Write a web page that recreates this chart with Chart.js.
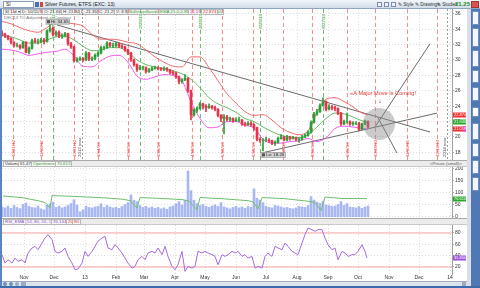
<!DOCTYPE html>
<html><head><meta charset="utf-8">
<script src="https://cdn.jsdelivr.net/npm/chart.js@4.4.1/dist/chart.umd.min.js"></script>
<style>
*{box-sizing:border-box;margin:0;padding:0}
body{width:480px;height:288px;overflow:hidden;background:#c3cfdf;font-family:'Liberation Sans',Arial,sans-serif;position:relative;color:#222}
.a{position:absolute;white-space:nowrap}
.box{position:absolute;white-space:nowrap;height:6px;line-height:4px;font-size:4.4px;border:1px solid #b8b8b8;background:#f7f7f7;padding:0 1px;color:#333}
.tab{position:absolute;left:472px;width:7px;background:#f3f6fb;border:1px solid #6f8fbf;border-radius:1px}
canvas{position:absolute}
</style></head><body>
<!-- top bar -->
<div class="a" style="left:0;top:0;width:480px;height:9px;background:linear-gradient(#f2f6fb,#d2ddeb);border-bottom:1px solid #8ea5c5"></div>
<div class="a" style="left:3px;top:1px;width:31px;height:7px;background:#fff;border:1px solid #8d9fb8;font-size:5px;line-height:5px;padding-left:2px">SI</div>
<div class="a" style="left:35px;top:2px;width:4px;height:5px;background:#4a6fb3"></div>
<div class="a" style="left:40px;top:2px;width:3px;height:5px;background:#d04a3a"></div>
<div class="a" style="left:45px;top:1px;font-size:5px;line-height:7px;color:#222">Silver Futures, ETFS (EXC: 13)</div>
<div class="a" style="left:377px;top:2px;width:5px;height:5px;border:1px solid #7d8ea8;background:#eef"></div>
<div class="a" style="left:384px;top:2px;width:5px;height:5px;border:1px solid #7d8ea8;background:#eef"></div>
<div class="a" style="left:391px;top:2px;width:5px;height:5px;border:1px solid #7d8ea8;background:#eef"></div>
<div class="a" style="left:398px;top:1px;font-size:4.6px;line-height:7px;color:#333">&#9998; Style</div>
<div class="a" style="left:415px;top:1px;font-size:4.6px;line-height:7px;color:#333">&#9998; Drawings</div>
<div class="a" style="left:437px;top:1px;font-size:4.6px;line-height:7px;color:#333">&#9998; Studies</div>
<div class="a" style="left:455px;top:0px;font-size:6px;line-height:9px;color:#1f8f1f;font-weight:bold">21.25</div>
<div class="a" style="left:471px;top:1px;width:8px;height:7px;background:#d9534f;border:1px solid #a33"></div>

<!-- frames -->
<div class="a" style="left:0;top:9px;width:2px;height:279px;background:#5a84c2"></div>
<div class="a" style="left:2px;top:9px;width:465px;height:272px;background:#fff"></div>
<div class="a" style="left:467px;top:9px;width:13px;height:279px;background:#d8dfe9"></div>
<div class="a" style="left:471px;top:9px;width:9px;height:279px;background:#4f78b4"></div>
<div class="tab" style="top:11px;height:14px"></div>
<div class="tab" style="top:28px;height:19px"></div>
<div class="tab" style="top:50px;height:17px"></div>
<div class="tab" style="top:70px;height:13px"></div>
<div class="tab" style="top:87px;height:14px"></div>
<div class="tab" style="top:107px;height:10px;background:#fff"></div>
<div class="tab" style="top:123px;height:17px"></div>
<div class="tab" style="top:143px;height:14px"></div>
<div class="tab" style="top:160px;height:14px"></div>
<div class="tab" style="top:177px;height:14px"></div>

<!-- legend rows -->
<div class="box" style="left:3px;top:9px">SI 1 d &#9662;</div>
<div class="box" style="left:20px;top:9px">D: 10/11/13</div>
<div class="box" style="left:42px;top:9px">O: 21.665</div>
<div class="box" style="left:61px;top:9px">H: 21.84</div>
<div class="box" style="left:79px;top:9px">L: 21.35</div>
<div class="box" style="left:97px;top:9px">C: 21.25</div>
<div class="box" style="left:114px;top:9px">V: 8.95</div>
<div class="box" style="left:127px;top:9px;color:#3c9a3c">BollingerBands(EMA 21.0,0.88, 2.0, 2.0) 21.850</div>
<div class="box" style="left:188px;top:9px;color:#c040c0">21.019</div>
<div class="box" style="left:201px;top:9px;color:#e03030">22.874</div>
<div class="a" style="left:4px;top:15px;font-size:4.4px;line-height:5px;color:#777">DEC13 TO Adjustment of Contract</div>

<!-- strips -->
<div class="a" style="left:2px;top:160px;width:465px;height:7px;background:#ececec;border-top:1px solid #aaa;border-bottom:1px solid #c8c8c8"></div>
<div class="box" style="left:3px;top:161px">Volume</div>
<div class="box" style="left:18px;top:161px">61,477</div>
<div class="box" style="left:31px;top:161px;color:#3c9a3c">OpenInterest</div>
<div class="box" style="left:55px;top:161px;color:#3c9a3c">70,613</div>
<div class="a" style="left:430px;top:161px;font-size:4.4px;line-height:5px;color:#555">&lt;Prices (small)&gt;</div>
<div class="a" style="left:2px;top:218px;width:465px;height:7px;background:#ececec;border-top:1px solid #aaa;border-bottom:1px solid #c8c8c8"></div>
<div class="box" style="left:3px;top:219px;color:#8a4fcf">RSI_EMA (14, 80, 20, CLOSE)</div>
<div class="box" style="left:51px;top:219px;color:#8a4fcf">35.1442</div>
<div class="box" style="left:66px;top:219px;color:#e03030">20</div>
<div class="box" style="left:72px;top:219px;color:#e03030">80</div>

<!-- bottom bar -->
<div class="a" style="left:2px;top:281px;width:465px;height:5px;background:#dde3ec;border-top:1px solid #aab"></div>
<div class="a" style="left:3px;top:282px;width:4px;height:4px;border-radius:2px;background:#6f8fb8"></div>
<div class="a" style="left:9px;top:282px;width:4px;height:4px;border-radius:2px;background:#6f8fb8"></div>
<div class="a" style="left:15px;top:282px;width:4px;height:4px;border-radius:2px;background:#9aaac0"></div>
<div class="a" style="left:21px;top:282px;width:5px;height:4px;background:#9aaac0"></div>
<div class="a" style="left:462px;top:282px;width:4px;height:4px;background:#9aaac0"></div>
<div class="a" style="left:0;top:286px;width:480px;height:2px;background:#3d6cae"></div>

<canvas id="cPrice" width="465" height="151" style="left:2px;top:9px"></canvas>
<canvas id="cVol" width="465" height="51" style="left:2px;top:167px"></canvas>
<canvas id="cRsi" width="465" height="56" style="left:2px;top:225px"></canvas>

<script>
// ---------- data ----------
const monthDays = [31,61,92,123,151,182,212,243,273,304,335,365,396,426,457]; // days since 2012-10-01
const monthLabels = ['Nov','Dec','13','Feb','Mar','Apr','May','Jun','Jul','Aug','Sep','Oct','Nov','Dec','14'];
const priceTicks = [18,20,22,24,26,28,30,32,34,36];
const volumeTicks = [0,50,100,150,200];
const rsiTicks = [20,40,60,80];
const rsiLevels = [80,20];

const days = [9,12,15,18,21,24,27,30,33,36,39,42,45,48,51,54,57,60,63,66,69,72,75,78,81,84,87,90,93,96,99,102,105,108,111,114,117,120,123,126,129,132,135,138,141,144,147,150,153,156,159,162,165,168,171,174,177,180,183,186,189,192,195,198,201,204,207,210,213,216,219,222,225,228,231,234,237,240,243,246,249,252,255,258,261,264,267,270,273,276,279,282,285,288,291,294,297,300,303,306,309,312,315,318,321,324,327,330,333,336,339,342,345,348,351,354,357,360,363,366,369,372,375];
const opens = [33.5,33.3,33.1,32.8,32.3,31.9,31.9,31.6,32.3,31.0,
 31.5,32.5,32.4,32.4,32.6,32.4,33.8,34.1,33.3,33.6,
 33.1,33.2,33.4,32.1,31.7,29.9,30.1,30.2,30.0,30.9,
 30.1,30.2,30.6,30.9,31.6,31.6,32.2,31.9,31.9,32.1,
 31.8,31.7,31.3,30.9,30.0,29.4,28.8,29.0,29.0,28.5,
 28.7,28.9,29.0,28.9,28.8,28.9,28.7,28.4,28.3,27.8,
 27.2,27.4,27.6,26.0,22.9,23.5,23.7,24.3,24.0,23.8,
 24.0,23.8,23.6,22.8,22.4,22.6,22.3,22.4,22.1,22.2,
 22.2,21.7,21.6,21.8,21.6,21.2,19.7,19.6,19.6,19.6,
 19.5,19.2,19.3,19.8,20.0,19.6,20.0,19.8,19.9,19.7,
 19.7,20.0,20.2,20.6,21.9,23.0,23.3,24.1,24.6,23.6,
 23.9,23.8,23.7,23.1,21.7,22.0,22.0,21.7,21.8,21.8,
 21.0,21.7,22.0];
const highs = [33.8,33.5,33.2,32.9,32.4,32.2,32.0,32.4,32.4,31.7,
 32.7,32.8,32.7,32.8,32.8,33.9,34.65,34.3,33.8,33.8,
 33.4,33.6,33.5,32.3,31.8,30.3,30.4,30.3,31.1,31.0,
 30.4,30.8,31.1,31.8,31.8,32.4,32.3,32.2,32.3,32.2,
 32.0,31.8,31.4,31.0,30.1,29.5,29.3,29.2,29.1,28.9,
 29.1,29.2,29.1,29.0,29.1,29.0,28.8,28.6,28.4,27.9,
 27.6,28.1,27.7,26.1,23.7,23.9,24.5,24.4,24.2,24.3,
 24.1,24.0,23.7,22.9,22.9,22.8,22.6,22.5,22.5,22.6,
 22.3,21.9,22.0,22.0,21.7,21.3,19.9,19.8,20.0,19.8,
 19.6,19.5,20.0,20.3,20.1,20.2,20.1,20.1,20.0,19.9,
 20.2,20.4,20.8,22.1,23.2,23.6,24.3,25.1,24.7,24.2,
 24.1,24.0,23.8,23.2,22.2,23.1,22.1,22.0,22.0,21.9,
 21.8,22.2,22.1];
const lows = [33.1,32.9,32.6,32.1,31.7,31.7,31.4,31.5,30.9,30.8,
 31.4,32.2,32.1,32.2,32.1,32.3,33.6,33.1,33.1,32.9,
 32.8,33.0,31.9,31.5,29.7,29.7,29.9,29.8,29.9,29.9,
 29.9,30.0,30.4,30.8,31.3,31.5,31.7,31.6,31.7,31.6,
 31.5,31.1,30.7,29.8,29.2,28.5,28.7,28.7,28.3,28.4,
 28.6,28.8,28.7,28.6,28.6,28.5,28.2,28.1,27.6,26.9,
 27.0,27.3,25.8,22.2,22.7,23.2,23.6,23.6,23.3,23.7,
 23.6,23.4,22.6,22.0,20.4,22.1,22.1,21.9,22.0,22.0,
 21.5,21.4,21.5,21.4,20.9,19.5,19.3,18.2,19.4,19.3,
 19.0,18.9,19.2,19.7,19.5,19.5,19.6,19.7,19.5,19.3,
 19.6,19.9,20.1,20.5,21.8,22.8,23.2,24.0,23.4,23.5,
 23.5,23.4,22.9,21.5,21.6,21.8,21.5,21.5,21.6,20.8,
 20.9,21.6,21.2];
const closes = [33.3,33.1,32.8,32.3,31.9,31.9,31.6,32.3,31.0,31.5,
 32.5,32.4,32.4,32.6,32.4,33.8,34.1,33.3,33.6,33.1,
 33.2,33.4,32.1,31.7,29.9,30.1,30.2,30.0,30.9,30.1,
 30.2,30.6,30.9,31.6,31.6,32.2,31.9,31.9,32.1,31.8,
 31.7,31.3,30.9,30.0,29.4,28.8,29.0,29.0,28.5,28.7,
 28.9,29.0,28.9,28.8,28.9,28.7,28.4,28.3,27.8,27.2,
 27.4,27.6,26.0,22.9,23.5,23.7,24.3,24.0,23.8,24.0,
 23.8,23.6,22.8,22.4,22.6,22.3,22.4,22.1,22.2,22.2,
 21.7,21.6,21.8,21.6,21.2,19.7,19.6,19.6,19.6,19.5,
 19.2,19.3,19.8,20.0,19.6,20.0,19.8,19.9,19.7,19.7,
 20.0,20.2,20.6,21.9,23.0,23.3,24.1,24.6,23.6,23.9,
 23.8,23.7,23.1,21.7,22.0,22.0,21.7,21.8,21.8,21.0,
 21.7,22.0,21.3];
const volumes = [42,38,45,36,48,40,35,52,58,44,40,38,46,34,30,
 50,55,62,40,45,38,42,48,56,
 72,50,22,30,
 45,40,38,42,44,55,40,48,42,38,40,36,44,
 52,60,92,70,64,48,40,
 44,38,42,36,40,34,38,32,42,46,55,64,50,70,
 192,110,70,56,48,52,44,40,46,50,
 44,60,42,38,34,40,44,38,42,36,44,40,
 117,78,70,60,44,40,38,48,
 46,42,38,40,36,34,38,44,42,40,48,
 85,71,62,57,66,50,48,44,46,
 52,64,48,56,42,40,38,44,36,42,46];

const bandDays = [9,18,27,36,45,54,63,72,81,90,99,108,117,126,135,144,153,162,171,180,189,198,207,216,225,234,243,252,261,270,279,288,297,306,315,324,333,342,351,360,369,375];
const upperBand = [35.0,34.7,34.2,33.8,33.6,34.2,34.9,34.8,34.7,34.4,33.3,32.7,32.7,32.6,32.3,32.1,31.3,30.4,29.7,29.2,29.1,30.4,30.4,29.0,27.3,25.6,24.4,23.3,22.8,22.9,22.2,21.2,20.6,20.3,20.8,23.2,24.9,25.1,24.6,23.9,23.1,22.874];
const middleBand = [33.2,33.0,32.6,32.2,32.2,32.6,33.0,33.1,32.6,31.8,31.2,31.3,31.6,31.6,31.0,30.0,29.4,29.1,28.9,28.6,28.2,27.5,26.4,25.1,24.3,23.8,23.2,22.4,22.0,21.3,20.7,20.2,20.0,19.9,20.3,21.3,22.4,23.1,23.0,22.6,22.1,21.946];
const lowerBand = [31.4,31.3,31.0,30.6,30.8,31.0,31.1,31.4,30.5,29.2,29.1,29.9,30.5,30.6,29.7,27.9,27.5,27.8,28.1,28.0,27.3,24.6,22.4,21.2,21.3,22.0,22.0,21.5,21.2,19.7,19.2,19.2,19.4,19.5,19.8,19.4,19.9,21.1,21.4,21.3,21.1,21.019];

const oiDays = [10,30,45,52,55,57,59,80,110,130,137,141,144,147,170,190,196,200,204,207,230,255,260,263,265,269,290,315,322,325,328,332,350,374];
const oiValues = [88,80,68,60,48,37,89,86,80,74,68,52,37,81,77,72,66,48,30,81,76,68,63,46,34,81,77,66,60,44,27,83,77,76.61];

const rsiDays = [9,12,15,19,22,25,29,32,35,39,42,45,49,52,55,59,62,65,69,72,75,79,82,85,89,92,95,99,102,105,109,112,115,119,122,125,129,132,135,139,142,145,149,152,155,159,162,165,169,172,175,179,182,185,189,192,195,199,202,205,209,212,215,219,222,225,229,232,235,239,242,245,249,252,255,259,262,265,269,272,275,279,282,285,289,292,295,299,302,305,309,312,315,319,322,325,329,332,335,339,342,345,349,352,355,359,362,365,369,372,374];
const rsiValues = [41.7,26.9,32.8,26.9,35.8,29.9,32.8,26.9,44.6,53.5,
 56.4,50.5,62.3,71.2,77.1,68.2,47.6,44.6,47.6,53.5,
 38.7,26.9,15.1,16.3,26.9,47.6,38.7,47.6,56.4,65.3,
 71.2,74.1,53.5,50.5,59.4,53.5,44.6,35.8,26.9,18.1,
 21.0,32.8,38.7,32.8,44.6,47.6,44.6,53.5,41.7,56.4,
 38.7,21.0,15.1,24.0,47.6,12.2,21.0,18.1,21.0,47.6,
 44.6,47.6,44.6,41.7,38.7,24.0,41.7,38.7,41.7,47.6,
 44.6,47.6,38.7,41.7,35.8,38.7,18.1,21.0,18.1,38.7,
 44.6,38.7,56.4,53.5,50.5,62.3,56.4,47.6,44.6,41.7,
 62.3,77.1,88.9,85.9,83.0,85.9,85.9,71.2,59.4,50.5,
 53.5,32.8,47.6,44.6,38.7,41.7,41.7,47.6,59.4,47.6,35.8];

// annotations (data coordinates: day, price)
const cycleDays = [20,48,81,105,135,165,199,229,260,290,319,354,382,414,444];
const cycleLabels = ['10/21/12','11/18/12','12/21/12','1/14/13','2/13/13','3/15/13','4/18/13','5/18/13','6/18/13','7/18/13','8/16/13','9/20/13','10/18/13','11/19/13','12/19/13'];
const turnDays = [60,147,207,267,330];
const turnLabels = ['11/30/12','2/25/13','4/26/13','6/25/13','8/27/13'];
const yearDays = [89,454];
const yearLabels = ['2013 year','2014 year'];
const resistDays = [64,437], resistPrices = [34.55,20.65];
const supportDays = [270,444], supportPrices = [17.96,23.1];
const breakUpDays = [382,437], breakUpPrices = [21.3,32.1];
const breakDownDays = [385,404], breakDownPrices = [22.5,17.9];
const focusDays = [386], focusPrices = [21.7];
const hiDay = 57, hiPrice = 34.65, loDay = 270, loPrice = 18.2;
const noteDay = 390, notePrice = 25.6, noteText = '\u00abA Major Move Is Coming!';
const arrowDay = 387, arrowPrice = 24.6;

[opens,highs,lows,closes,volumes].forEach(a=>{ if(a.length!==days.length) throw new Error('len '+a.length); });
if (rsiValues.length!==rsiDays.length) throw new Error('rsi len '+rsiValues.length+' '+rsiDays.length);
[upperBand,middleBand,lowerBand].forEach(a=>{ if(a.length!==bandDays.length) throw new Error('band len'); });
if (oiValues.length!==oiDays.length) throw new Error('oi len');

// ---------- setup ----------
const FONT = "'Liberation Sans', Arial, sans-serif";
Chart.defaults.font.family = FONT;
const xMin = 9, xMax = 459;
const UP = '#2f9e3a', DOWN = '#e8324a';
const GRID = '#cfcfcf';
const pts = (xs, ys) => xs.map((d,i)=>({x:d, y:ys[i]}));

function xScale(showLabels){
  return {type:'linear', min:xMin, max:xMax, offset:false,
    afterBuildTicks: s => { s.ticks = monthDays.map(v=>({value:v})); },
    afterFit: s => { s.height = showLabels ? 7 : 0; s.paddingLeft = 0; s.paddingRight = 0; },
    grid:{color:GRID, lineWidth:0.7, drawTicks:false, offset:false},
    border:{display:false, dash:[1,2]},
    ticks:{display:showLabels, autoSkip:false, maxRotation:0, padding:1, color:'#333', font:{size:5}, callback:(v,i)=>monthLabels[i]}
  };
}
function yScale(min, max, tickArr){
  return {position:'right', min, max,
    afterBuildTicks: s => { s.ticks = tickArr.map(v=>({value:v})); },
    afterFit: s => { s.width = 15; s.paddingTop = 0; s.paddingBottom = 0; },
    grid:{color:GRID, lineWidth:0.7, drawTicks:true, tickLength:2, tickColor:'#888'},
    border:{display:true, color:'#a0a0a0', width:1, dash:[1,2]},
    ticks:{padding:1, color:'#333', font:{size:5}}
  };
}
const base = {responsive:false, animation:false, devicePixelRatio:1, layout:{padding:0, autoPadding:false},
  plugins:{legend:{display:false}, tooltip:{enabled:false}}};

function badge(chart, value, text, bg, fg, bg2){
  const {ctx, chartArea:a, scales:{y}} = chart;
  const py = Math.round(y.getPixelForValue(value));
  ctx.save();
  ctx.fillStyle = bg; ctx.fillRect(a.right+1, py-2.5, 13, 5);
  if (bg2){ ctx.fillStyle = bg2; ctx.fillRect(a.right+11, py-2.5, 3, 5); }
  ctx.fillStyle = fg; ctx.font = `4px ${FONT}`; ctx.textAlign='left'; ctx.textBaseline='middle';
  ctx.fillText(text, a.right+2, py+0.3);
  ctx.restore();
}

const priceAnno = {
  id:'priceAnno',
  beforeDatasetsDraw(chart){
    const {ctx, chartArea:a, scales:{x}} = chart;
    ctx.save();
    ctx.beginPath(); ctx.rect(a.left,a.top,a.right-a.left,a.bottom-a.top); ctx.clip();
    ctx.lineWidth = 1;
    const vline = (d,color,dash)=>{ const px=Math.round(x.getPixelForValue(d))+0.5; ctx.strokeStyle=color; ctx.setLineDash(dash); ctx.beginPath(); ctx.moveTo(px,a.top); ctx.lineTo(px,a.bottom); ctx.stroke(); };
    cycleDays.forEach(d=>vline(d,'rgba(246,110,110,0.8)',[4,3]));
    turnDays.forEach(d=>vline(d,'rgba(80,170,80,0.8)',[4,3]));
    yearDays.forEach(d=>vline(d,'rgba(90,90,90,0.6)',[2,2]));
    ctx.setLineDash([]);
    ctx.font = `4.4px ${FONT}`; ctx.textBaseline='middle';
    const vtext = (txt,px,py,align,color)=>{ ctx.save(); ctx.translate(px,py); ctx.rotate(-Math.PI/2); ctx.textAlign=align; ctx.fillStyle=color; ctx.fillText(txt,0,0); ctx.restore(); };
    cycleDays.forEach((d,i)=>vtext(cycleLabels[i], x.getPixelForValue(d)+1, a.bottom-3, 'left', '#f04848'));
    turnDays.forEach((d,i)=>{ const px=Math.round(x.getPixelForValue(d))+0.5;
      ctx.fillStyle='rgba(240,250,240,0.95)'; ctx.fillRect(px-2, a.top+5, 4, 15);
      vtext(turnLabels[i], px+0.2, a.top+5, 'right', '#3a9a3a'); });
    yearDays.forEach((d,i)=>vtext(yearLabels[i], x.getPixelForValue(d)-2, a.bottom-3, 'left', '#555'));
    ctx.restore();
  },
  afterDatasetsDraw(chart){
    const {ctx, scales:{x,y}} = chart;
    ctx.save();
    const tag = (txt, px, py)=>{
      ctx.font = `4.4px ${FONT}`;
      const w = ctx.measureText(txt).width + 6;
      ctx.fillStyle='#d2d2d2'; ctx.fillRect(px, py, w, 5);
      ctx.strokeStyle='#8a8a8a'; ctx.lineWidth=0.6; ctx.strokeRect(px, py, w, 5);
      ctx.fillStyle='#555'; ctx.fillRect(px+1, py+1, 3, 3);
      ctx.fillStyle='#222'; ctx.textAlign='left'; ctx.textBaseline='middle'; ctx.fillText(txt, px+5, py+2.7);
    };
    tag('Hi: '+hiPrice.toFixed(2), x.getPixelForValue(hiDay)-4, y.getPixelForValue(hiPrice)-5);
    tag('Lo: '+loPrice.toFixed(2), x.getPixelForValue(loDay)-2, y.getPixelForValue(loPrice)+1.5);
    ctx.fillStyle='#ea3434'; ctx.font=`5.6px ${FONT}`; ctx.textAlign='center'; ctx.textBaseline='middle';
    ctx.fillText(noteText, x.getPixelForValue(noteDay), y.getPixelForValue(notePrice));
    ctx.fillStyle='#111'; ctx.font=`bold 6px ${FONT}`;
    ctx.fillText('\u2193', x.getPixelForValue(arrowDay), y.getPixelForValue(arrowPrice));
    ctx.restore();
  },
  afterDraw(chart){
    const n = bandDays.length-1;
    badge(chart, upperBand[n], upperBand[n].toFixed(3), '#f03030', '#fff');
    badge(chart, middleBand[n], middleBand[n].toFixed(3), '#2aaa2a', '#fff');
    badge(chart, lowerBand[n], lowerBand[n].toFixed(3), '#f03030', '#fff', '#e040e0');
  }
};

const bandLine = (xs, ys, color) => ({type:'line', data:pts(xs,ys), borderColor:color, borderWidth:1, pointRadius:0, cubicInterpolationMode:'monotone', order:3});
const trendLine = (xs, ys) => ({type:'line', data:pts(xs,ys), borderColor:'#6a6a6a', borderWidth:1, pointRadius:0, order:4});

new Chart(document.getElementById('cPrice'), {
  type:'bar',
  data:{datasets:[
    {type:'bubble', data:pts(focusDays, focusPrices), radius:16, backgroundColor:'rgba(140,140,140,0.45)', borderWidth:0, order:0},
    {type:'bar', data:days.map((d,i)=>({x:d, y:[opens[i], closes[i]]})), barThickness:2, grouped:false, borderWidth:0,
      backgroundColor:c=>closes[c.dataIndex]>=opens[c.dataIndex]?UP:DOWN, order:1},
    {type:'bar', data:days.map((d,i)=>({x:d, y:[lows[i], highs[i]]})), barThickness:1, grouped:false, borderWidth:0,
      backgroundColor:c=>closes[c.dataIndex]>=opens[c.dataIndex]?UP:DOWN, order:2},
    bandLine(bandDays, upperBand, '#f06a6a'),
    bandLine(bandDays, middleBand, '#63bb63'),
    bandLine(bandDays, lowerBand, '#ee5cee'),
    trendLine(resistDays, resistPrices),
    trendLine(supportDays, supportPrices),
    trendLine(breakUpDays, breakUpPrices),
    trendLine(breakDownDays, breakDownPrices)
  ]},
  options:Object.assign({}, base, {scales:{x:xScale(false), y:yScale(17.01, 36.62, priceTicks)}}),
  plugins:[priceAnno]
});

new Chart(document.getElementById('cVol'), {
  type:'bar',
  data:{datasets:[
    {type:'line', data:pts(oiDays, oiValues), borderColor:'#6cbf6c', borderWidth:1, pointRadius:0, order:1},
    {type:'bar', data:pts(days, volumes), barThickness:2, grouped:false, borderWidth:0, backgroundColor:'rgba(140,160,236,0.75)', order:2}
  ]},
  options:Object.assign({}, base, {scales:{x:xScale(false), y:yScale(-4.17, 208.3, volumeTicks)}}),
  plugins:[{id:'volBadge', afterDraw(chart){ const n=oiValues.length-1; badge(chart, oiValues[n], oiValues[n].toFixed(3), '#2aaa2a', '#fff'); }}]
});

new Chart(document.getElementById('cRsi'), {
  type:'line',
  data:{datasets:[
    {data:pts(rsiDays, rsiValues), borderColor:'#a46be0', borderWidth:1, pointRadius:0, order:1},
    {data:pts([xMin,xMax],[rsiLevels[0],rsiLevels[0]]), borderColor:'#f7a5a5', borderWidth:1, pointRadius:0, order:2},
    {data:pts([xMin,xMax],[rsiLevels[1],rsiLevels[1]]), borderColor:'#f7a5a5', borderWidth:1, pointRadius:0, order:2}
  ]},
  options:Object.assign({}, base, {scales:{x:xScale(true), y:yScale(7.6, 94.1, rsiTicks)}}),
  plugins:[{id:'rsiBadge', afterDraw(chart){ const n=rsiValues.length-1; badge(chart, rsiValues[n], rsiValues[n].toFixed(4), '#9a4fd8', '#fff'); }}]
});
</script>
</body></html>
